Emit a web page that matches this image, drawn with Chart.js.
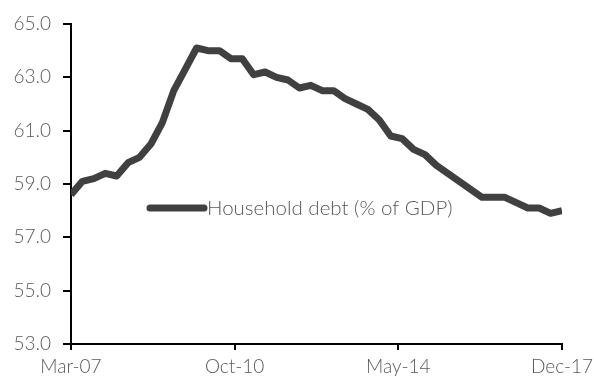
<!DOCTYPE html>
<html>
<head>
<meta charset="utf-8">
<script src="https://cdn.jsdelivr.net/npm/chart.js@4.4.1/dist/chart.umd.min.js"></script>
<style>
html,body{margin:0;padding:0;background:#fff;}
#wrap{width:594px;height:378px;}
</style>
</head>
<body>
<div id="wrap"><canvas id="c" width="594" height="378"></canvas></div>
<script>
// Quarterly observations, Mar-07 .. Dec-17
const quarters = ['Mar-07','Jun-07','Sep-07','Dec-07','Mar-08','Jun-08','Sep-08','Dec-08',
  'Mar-09','Jun-09','Sep-09','Dec-09','Mar-10','Jun-10','Sep-10','Dec-10',
  'Mar-11','Jun-11','Sep-11','Dec-11','Mar-12','Jun-12','Sep-12','Dec-12',
  'Mar-13','Jun-13','Sep-13','Dec-13','Mar-14','Jun-14','Sep-14','Dec-14',
  'Mar-15','Jun-15','Sep-15','Dec-15','Mar-16','Jun-16','Sep-16','Dec-16',
  'Mar-17','Jun-17','Sep-17','Dec-17'];
const householdDebt = [58.6,59.1,59.2,59.4,59.3,59.8,60.0,60.5,
  61.3,62.5,63.3,64.1,64.0,64.0,63.7,63.7,
  63.1,63.2,63.0,62.9,62.6,62.7,62.5,62.5,
  62.2,62.0,61.8,61.4,60.8,60.7,60.3,60.1,
  59.7,59.4,59.1,58.8,58.5,58.5,58.5,58.3,
  58.1,58.1,57.9,58.0];
const seriesLabel = 'Household debt (% of GDP)';
// x-axis tick labels and their month offsets from Mar-07
const xTickLabels = ['Mar-07','Oct-10','May-14','Dec-17'];
const xTickMonths = [0,43,86,129];
const yTicks = [53,55,57,59,61,63,65];

const FONT = 'Lato, "Open Sans", sans-serif';
const TEXT = '#595959';
const LINE = '#404040';

const points = householdDebt.map((v,i)=>({x:i*3, y:v}));

const legendPlugin = {
  id:'inlineLegend',
  afterDatasetsDraw(chart){
    const ctx = chart.ctx, a = chart.chartArea;
    const y = a.top + 184;
    const x0 = a.left + 79, x1 = a.left + 133;
    ctx.save();
    ctx.strokeStyle = LINE; ctx.lineWidth = 7; ctx.lineCap = 'round';
    ctx.beginPath(); ctx.moveTo(x0,y); ctx.lineTo(x1,y); ctx.stroke();
    ctx.fillStyle = TEXT;
    ctx.font = '300 20.5px ' + FONT;
    ctx.textBaseline = 'middle'; ctx.textAlign = 'left';
    ctx.fillText(seriesLabel, x1 + 3, y);
    ctx.restore();
  }
};

new Chart(document.getElementById('c'), {
  type:'line',
  data:{datasets:[{label:seriesLabel, data:points, borderColor:LINE, borderWidth:7,
    pointRadius:0, tension:0, fill:false, borderJoinStyle:'round', borderCapStyle:'butt'}]},
  options:{
    responsive:false, animation:false,
    layout:{padding:{top:24,right:32,bottom:0,left:0}},
    plugins:{legend:{display:false}, tooltip:{enabled:false}},
    scales:{
      x:{type:'linear', min:0, max:129,
        afterBuildTicks(s){ s.ticks = xTickMonths.map(v=>({value:v})); },
        afterFit(s){ s.height = 34; s.paddingRight = 0; s.paddingLeft = 0; },
        ticks:{callback:(v)=>{const i=xTickMonths.indexOf(v); return i>=0?xTickLabels[i]:'';},
          color:TEXT, font:{family:FONT, size:19, weight:'300'}, padding:5, maxRotation:0, autoSkip:false},
        grid:{display:true, drawOnChartArea:false, drawTicks:true, tickLength:6, color:'#000', lineWidth:2},
        border:{display:true, color:'#000', width:2}
      },
      y:{min:53, max:65,
        afterBuildTicks(s){ s.ticks = yTicks.map(v=>({value:v})); },
        afterFit(s){ s.width = 71; s.paddingTop = 0; s.paddingBottom = 0; },
        ticks:{callback:(v)=>Number(v).toFixed(1), color:TEXT,
          font:{family:FONT, size:19, weight:'300'}, padding:12},
        grid:{display:true, drawOnChartArea:false, drawTicks:true, tickLength:8, color:'#000', lineWidth:2},
        border:{display:true, color:'#000', width:2}
      }
    }
  },
  plugins:[legendPlugin]
});
</script>
</body>
</html>
